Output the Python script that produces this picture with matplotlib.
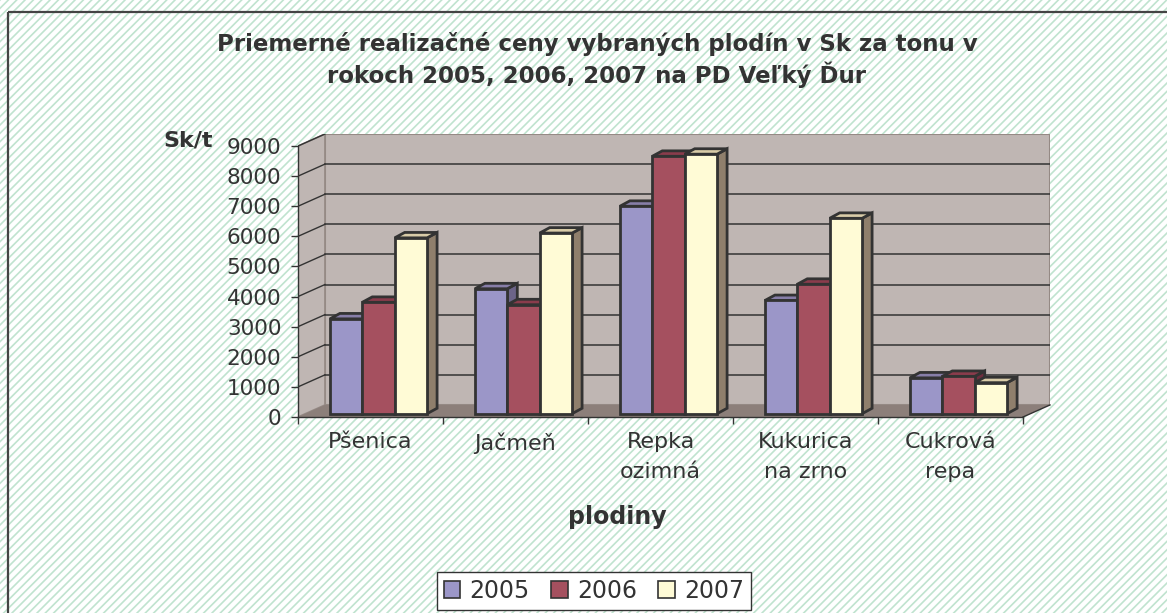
"""
Priemerne realizacne ceny plodin - pseudo-3D clustered column chart.
"""

import matplotlib

matplotlib.use("Agg")

import matplotlib.pyplot as plt
from matplotlib.patches import Patch, Polygon, Rectangle

# ---- data -------------------------------------------------------------
crops = ["Pšenica", "Jačmeň", "Repka\nozimná", "Kukurica\nna zrno", "Cukrová\nrepa"]
years = ["2005", "2006", "2007"]
v2005 = [3150, 4150, 6890, 3760, 1190]
v2006 = [3700, 3620, 8550, 4300, 1240]
v2007 = [5840, 6000, 8620, 6490, 1030]
y_ticks = [0, 1000, 2000, 3000, 4000, 5000, 6000, 7000, 8000, 9000]

# ---- style ------------------------------------------------------------
front_c = ["#9B96C8", "#A5505F", "#FFFBD6"]
top_c = ["#877EA8", "#8A3C4C", "#D9CCA8"]
side_c = ["#6C6488", "#6E2E3E", "#8F7F6C"]
wall_c = "#BFB6B3"
floor_c = "#8C7F7A"
edge_c = "#333333"
text_c = "#333333"

W, H = 1167, 613
YMAX = 9000
DX, DY = 0.186, 400          # depth of walls (category units, value units)
BDX, BDY = 0.069, 180        # depth of a bar
OX, OY = 0.055, 110          # offset of bar front from axis front
BW = 0.2234                  # bar width

plt.rcParams["font.family"] = ["DejaVu Sans"]
plt.rcParams["hatch.linewidth"] = 1.2

fig = plt.figure(figsize=(W / 100, H / 100), dpi=100)

# background with light green diagonal stripes and frame
bg = fig.add_axes([0, 0, 1, 1])
bg.set_axis_off()
bg.set_xlim(0, W)
bg.set_ylim(H, 0)
bg.add_patch(Rectangle((0, 0), W, H, facecolor="white", edgecolor="#C0E3CF",
                       linewidth=0, hatch="////"))
bg.add_patch(Rectangle((8, 12), W + 20, H + 20, facecolor="none",
                       edgecolor="#444444", linewidth=1.6))

# main axes: front-left at x=298px, floor front at y=417px
x0_px, x1_px = 298, 1050
y0_px, y1_px = 417, 134
ax = fig.add_axes([x0_px / W, (H - y0_px) / H,
                   (x1_px - x0_px) / W, (y0_px - y1_px) / H])
ax.set_facecolor("none")
ax.set_xlim(0, len(crops) + DX)
ax.set_ylim(0, YMAX + DY)
n = len(crops)

# walls and floor
ax.add_patch(Rectangle((DX, DY), n, YMAX, facecolor=wall_c,
                       edgecolor="#958A85", linewidth=1.5, zorder=1))
ax.add_patch(Polygon([(0, 0), (0, YMAX), (DX, YMAX + DY), (DX, DY)],
                     closed=True, facecolor=wall_c, edgecolor="#958A85",
                     linewidth=1.2, zorder=1))
ax.add_patch(Polygon([(0, 0), (n, 0), (n + DX, DY), (DX, DY)], closed=True,
                     facecolor=floor_c, edgecolor="none", zorder=1))
ax.plot([n, n + DX], [0, DY], color=edge_c, lw=1.0, zorder=2, clip_on=False)
for v in y_ticks[1:-1]:
    ax.plot([DX, n + DX], [v + DY, v + DY], color=edge_c, lw=1.1, zorder=2)
for v in y_ticks[1:]:
    ax.plot([0, DX], [v, v + DY], color=edge_c, lw=1.0, zorder=2)

# bars
series = [v2005, v2006, v2007]
group_left = (1 - BW * len(series)) / 2 + OX
z = 10
for i in range(n):
    for k, vals in enumerate(series):
        x = i + group_left + k * BW
        h = vals[i]
        side = [(x + BW, OY), (x + BW + BDX, OY + BDY),
                (x + BW + BDX, OY + h + BDY), (x + BW, OY + h)]
        top = [(x, OY + h), (x + BW, OY + h),
               (x + BW + BDX, OY + h + BDY), (x + BDX, OY + h + BDY)]
        ax.add_patch(Polygon(side, closed=True, facecolor=side_c[k],
                             edgecolor=edge_c, linewidth=2.0, zorder=z))
        ax.add_patch(Polygon(top, closed=True, facecolor=top_c[k],
                             edgecolor=edge_c, linewidth=2.0, zorder=z + 1))
        ax.bar(x, h, width=BW, bottom=OY, align="edge", color=front_c[k],
               edgecolor=edge_c, linewidth=2.0, zorder=z + 2)
        z += 3

# axes lines, ticks, labels
for s in ["top", "right"]:
    ax.spines[s].set_visible(False)
ax.spines["left"].set_bounds(0, YMAX)
ax.spines["bottom"].set_bounds(0, n)
for s in ["left", "bottom"]:
    ax.spines[s].set_color(edge_c)
    ax.spines[s].set_linewidth(1.0)
    ax.spines[s].set_zorder(5)

ax.set_yticks(y_ticks)
ax.set_yticklabels([str(v) for v in y_ticks])
ax.tick_params(axis="y", direction="out", length=5, width=1.0, color=edge_c,
               pad=7, labelsize=15.5, labelcolor=text_c)
ax.set_xticks(range(n + 1))
ax.set_xticklabels([])
ax.set_xticks([i + 0.5 for i in range(n)], minor=True)
ax.set_xticklabels(crops, minor=True, linespacing=1.6)
ax.tick_params(axis="x", which="major", direction="out", length=5,
               width=1.0, color=edge_c)
ax.tick_params(axis="x", which="minor", length=0, pad=11, labelsize=16,
               labelcolor=text_c)

fig.text(597 / W, 1 - 60 / H,
         "Priemerné realizačné ceny vybraných plodín v Sk za tonu v\n"
         "rokoch 2005, 2006, 2007 na PD Veľký Ďur",
         ha="center", va="center", fontsize=16.5, fontweight="bold",
         color=text_c, linespacing=1.3)
fig.text(213 / W, 1 - 140 / H, "Sk/t", ha="right", va="center", fontsize=16,
         fontweight="bold", color=text_c)
fig.text(617 / W, 1 - 517 / H, "plodiny", ha="center", va="center",
         fontsize=17, fontweight="bold", color=text_c)

handles = [Patch(facecolor=front_c[k], edgecolor=edge_c, linewidth=1.2,
                 label=years[k]) for k in range(len(years))]
leg = fig.legend(handles=handles, loc="center", ncol=3,
                 bbox_to_anchor=(594 / W, 1 - 591 / H), frameon=True,
                 fancybox=False, edgecolor=edge_c, facecolor="white",
                 framealpha=1, fontsize=17, handlelength=0.7,
                 handleheight=0.7, handletextpad=0.4, columnspacing=0.9,
                 borderpad=0.3, labelcolor=text_c)
leg.get_frame().set_linewidth(1.0)

fig.savefig("out.png", dpi=100)
